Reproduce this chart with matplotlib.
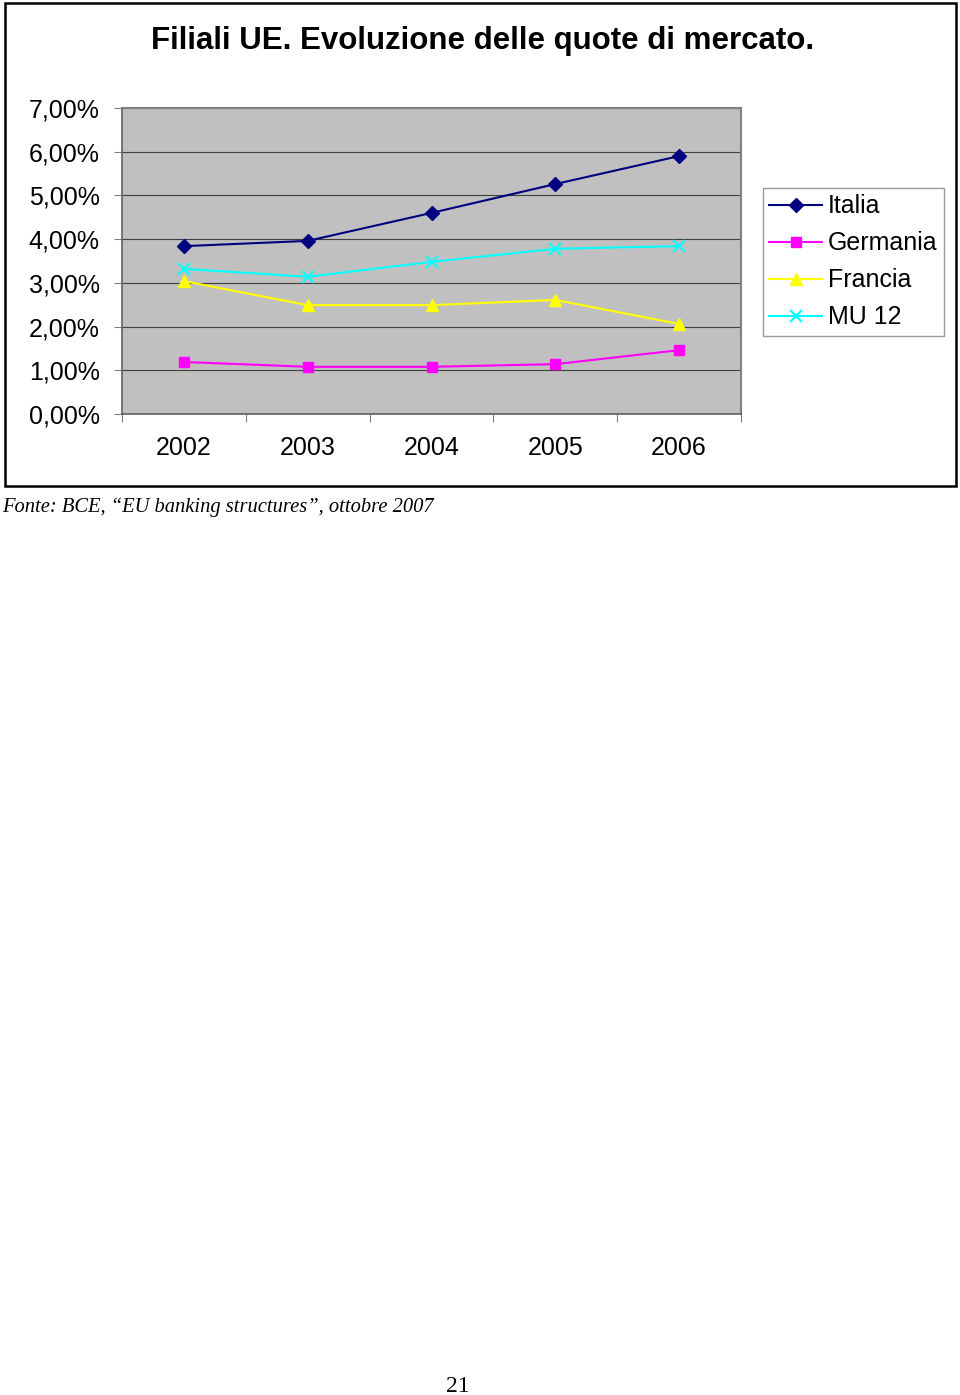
import matplotlib
matplotlib.use('Agg')
import matplotlib.pyplot as plt
from matplotlib.patches import Rectangle
from matplotlib.ticker import FuncFormatter

years = ['2002', '2003', '2004', '2005', '2006']
italia = [3.84, 3.96, 4.60, 5.26, 5.90]
germania = [1.19, 1.08, 1.08, 1.14, 1.46]
francia = [3.04, 2.49, 2.49, 2.61, 2.06]
mu12 = [3.32, 3.14, 3.48, 3.78, 3.84]

W, H = 960, 1395
plt.rcParams['font.family'] = ['Liberation Sans']
fig = plt.figure(figsize=(W / 100, H / 100), dpi=100)

def fx(px):
    return px / W

def fy(py):
    return 1 - py / H

# outer frame of the chart
fig.patches.append(Rectangle((fx(5), fy(486)), fx(956) - fx(5), fy(3) - fy(486),
                             transform=fig.transFigure, fill=False,
                             edgecolor='black', linewidth=1.8))

ax = fig.add_axes([fx(122), fy(414), fx(741) - fx(122), fy(108) - fy(414)])
ax.set_facecolor('#C0C0C0')

x = [i + 0.5 for i in range(len(years))]
ax.plot(x, italia, color='#000080', marker='D', markersize=7, linewidth=1.5, label='Italia')
ax.plot(x, germania, color='#FF00FF', marker='s', markersize=7.5, linewidth=1.5, label='Germania')
ax.plot(x, francia, color='#FFFF00', marker='^', markersize=9, linewidth=1.5, label='Francia')
ax.plot(x, mu12, color='#00FFFF', marker='x', markersize=9, markeredgewidth=1.5,
        linewidth=1.5, label='MU 12')

ax.set_xlim(0, len(years))
ax.set_ylim(0, 7)
ax.set_yticks(range(0, 8))
ax.yaxis.set_major_formatter(FuncFormatter(lambda v, p: f'{v:.2f}'.replace('.', ',') + '%'))
ax.set_xticks(range(0, len(years) + 1))
ax.set_xticklabels([])
ax.set_xticks(x, minor=True)
ax.set_xticklabels(years, minor=True)
ax.tick_params(axis='x', which='minor', length=0, pad=16, labelsize=18)
ax.tick_params(axis='x', which='major', length=6, color='#808080', direction='out')
ax.tick_params(axis='y', length=6, color='#808080', direction='out', pad=10, labelsize=18)
ax.grid(axis='y', color='#404040', linewidth=0.8)
ax.set_axisbelow(True)
for s in ['top', 'right']:
    ax.spines[s].set_color('#808080')
    ax.spines[s].set_linewidth(1.5)
for s in ['left', 'bottom']:
    ax.spines[s].set_color('#606060')
    ax.spines[s].set_linewidth(1.2)

fig.text(fx(483), fy(41), 'Filiali UE. Evoluzione delle quote di mercato.',
         ha='center', va='center', fontsize=22.5, fontweight='bold')

leg = fig.legend(loc='upper left', bbox_to_anchor=(fx(763), fy(188)),
                 frameon=True, fancybox=False, edgecolor='#808080',
                 handlelength=2.1, handletextpad=0.25,
                 labelspacing=0.52, borderpad=0.25, borderaxespad=0,
                 prop={'family': 'Liberation Sans', 'size': 18})
leg.get_frame().set_linewidth(1.0)

fig.text(fx(2), fy(507), 'Fonte: BCE, \u201cEU banking structures\u201d, ottobre 2007',
         ha='left', va='center', fontsize=14.8, style='italic', family='Liberation Serif')
fig.text(fx(458), fy(1386), '21', ha='center', va='center', fontsize=17,
         family='Liberation Serif')

fig.savefig('out.png', dpi=100)
